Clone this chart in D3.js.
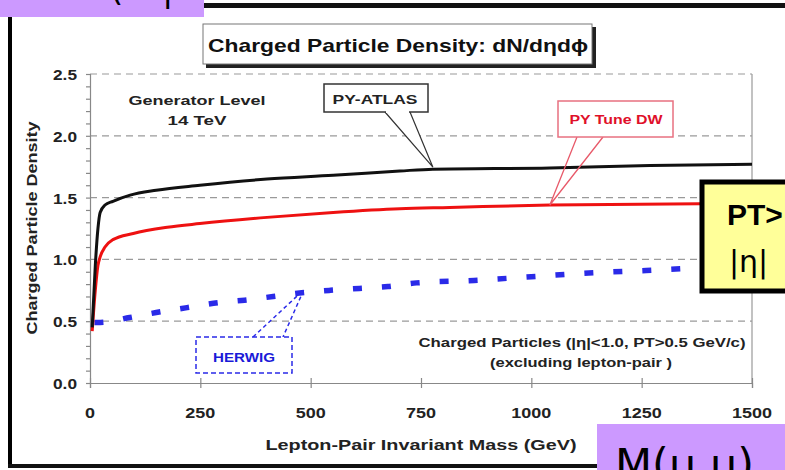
<!DOCTYPE html>
<html>
<head>
<meta charset="utf-8">
<script src="https://cdn.jsdelivr.net/npm/d3@7"></script>
<style>
  html, body { margin: 0; padding: 0; background: #fff; }
  svg { display: block; font-family: "Liberation Sans", Arial, sans-serif; }
</style>
</head>
<body>
<svg id="chart" width="785" height="470"></svg>
<script>
// Lepton-pair invariant mass (GeV) and charged particle density per model
const atlasMass   = [5, 12, 18, 23, 34, 52, 91, 150, 249, 401, 551, 702, 777, 1042, 1269, 1500];
const atlasValues = [0.45, 0.95, 1.25, 1.38, 1.44, 1.47, 1.52, 1.56, 1.60, 1.65, 1.68, 1.715, 1.73, 1.74, 1.76, 1.77];

const dwMass   = [5, 12, 18, 23, 34, 52, 98, 175, 249, 401, 551, 702, 815, 1042, 1382, 1500];
const dwValues = [0.42, 0.75, 0.95, 1.02, 1.10, 1.16, 1.21, 1.26, 1.29, 1.34, 1.38, 1.41, 1.42, 1.44, 1.45, 1.45];

const herwigMass   = [10, 23, 90, 150, 220, 290, 350, 415, 480, 545, 610, 675, 740, 870, 1000, 1130, 1260, 1400, 1500];
const herwigValues = [0.49, 0.49, 0.53, 0.57, 0.61, 0.65, 0.67, 0.70, 0.73, 0.75, 0.765, 0.78, 0.81, 0.83, 0.86, 0.89, 0.91, 0.935, 0.95];

const xTicks = [0, 250, 500, 750, 1000, 1250, 1500];
const yTicks = [0.0, 0.5, 1.0, 1.5, 2.0, 2.5];

const svg = d3.select("#chart");

const x = d3.scaleLinear().domain([0, 1500]).range([90, 752]);
const y = d3.scaleLinear().domain([0, 2.5]).range([383, 74]);

// Text helper: wide, blocky lettering stretched to a set width
function label(g, opts) {
  const t = g.append("text")
    .attr("x", opts.x).attr("y", opts.y)
    .attr("text-anchor", opts.anchor || "middle")
    .attr("font-size", opts.size || 12)
    .attr("font-weight", opts.weight || "bold")
    .attr("fill", opts.fill || "#222")
    .text(opts.text);
  if (opts.family) t.attr("font-family", opts.family);
  if (opts.width) t.attr("textLength", opts.width).attr("lengthAdjust", "spacingAndGlyphs");
  if (opts.transform) t.attr("transform", opts.transform);
  return t;
}

// Slide frame
svg.append("rect").attr("x", 8).attr("y", 15).attr("width", 4).attr("height", 453).attr("fill", "#000");
svg.append("rect").attr("x", 8).attr("y", 464).attr("width", 600).attr("height", 4).attr("fill", "#111");
svg.append("rect").attr("x", 200).attr("y", 3).attr("width", 585).attr("height", 5).attr("fill", "#111");

// Purple header tab (its heading sits above the visible area)
svg.append("rect").attr("x", 0).attr("y", 0).attr("width", 204).attr("height", 17).attr("fill", "#cc99ff");
label(svg, { x: 110, y: 1, size: 34, weight: "normal", family: "DejaVu Sans", fill: "#000", anchor: "start", text: "(" });
label(svg, { x: 162, y: 1, size: 34, weight: "normal", family: "DejaVu Sans", fill: "#000", anchor: "start", text: "|" });

// Gridlines
svg.append("g").selectAll("line").data(yTicks.filter(d => d > 0)).join("line")
  .attr("x1", x(0)).attr("x2", x(1500))
  .attr("y1", d => y(d)).attr("y2", d => y(d))
  .attr("stroke", "#9a9a9a").attr("stroke-width", 1.2).attr("stroke-dasharray", "7,5");

// Right frame of plot
svg.append("line").attr("x1", x(1500)).attr("x2", x(1500)).attr("y1", y(2.5)).attr("y2", y(0))
  .attr("stroke", "#999").attr("stroke-width", 1.2);

// Y axis with minor ticks
const yAxis = d3.axisLeft(y).tickValues(d3.range(0, 2.51, 0.1)).tickSize(4).tickFormat("");
const gy = svg.append("g").attr("transform", `translate(${x(0)},0)`).call(yAxis);
gy.selectAll("path, line").attr("stroke", "#888").attr("stroke-width", 1.2);
const gyl = svg.append("g");
yTicks.forEach(d => label(gyl, { x: 77, y: y(d) + 6, size: 14, anchor: "end", width: 24, text: d3.format(".1f")(d) }));

// X axis
const xAxis = d3.axisBottom(x).tickValues(xTicks).tickSize(5).tickFormat("");
const gx = svg.append("g").attr("transform", `translate(0,${y(0)})`).call(xAxis);
gx.selectAll("path").attr("stroke", "#888").attr("stroke-width", 1.2);
gx.selectAll(".tick line").attr("y1", -5).attr("stroke", "#888").attr("stroke-width", 1.2);
const gxl = svg.append("g");
xTicks.forEach(d => {
  const s = String(d);
  label(gxl, { x: x(d), y: 418, size: 14, width: s.length * 10, text: s });
});

// Axis titles
label(svg, { x: 421, y: 450, size: 15, width: 311, text: "Lepton-Pair Invariant Mass (GeV)" });
label(svg, { x: 0, y: 0, size: 14, width: 213, text: "Charged Particle Density",
  transform: "translate(37,228) rotate(-90)" });

// Curves
const line = (xs, vs) => d3.line().curve(d3.curveMonotoneX)
  .x((d, i) => x(xs[i])).y(d => y(d))(vs);

svg.append("path").attr("d", line(herwigMass, herwigValues)).attr("fill", "none")
  .attr("stroke", "#2a2ae8").attr("stroke-width", 5.5).attr("stroke-dasharray", "9,20");
svg.append("path").attr("d", line(dwMass, dwValues)).attr("fill", "none")
  .attr("stroke", "#ee1111").attr("stroke-width", 3);
svg.append("path").attr("d", line(atlasMass, atlasValues)).attr("fill", "none")
  .attr("stroke", "#111").attr("stroke-width", 3);

// Title box with shadow
svg.append("rect").attr("x", 206).attr("y", 27).attr("width", 390).attr("height", 41).attr("fill", "#222");
svg.append("rect").attr("x", 203).attr("y", 24).attr("width", 389).attr("height", 40)
  .attr("fill", "#fff").attr("stroke", "#777").attr("stroke-width", 1);
label(svg, { x: 208, y: 52, size: 19, anchor: "start", width: 380, fill: "#111",
  text: "Charged Particle Density: dN/dηdϕ" });

// Generator note
label(svg, { x: 197, y: 105, size: 13, width: 137, text: "Generator Level" });
label(svg, { x: 197, y: 125, size: 13, width: 59, text: "14 TeV" });

// PY-ATLAS callout
const atlasTip = [x(777), y(1.73) - 2];
svg.append("path").attr("d", `M385,112 L${atlasTip[0]},${atlasTip[1]} L410,112`)
  .attr("fill", "#fff").attr("stroke", "#333").attr("stroke-width", 1.2);
svg.append("rect").attr("x", 324).attr("y", 84).attr("width", 104).attr("height", 28)
  .attr("fill", "#fff").attr("stroke", "#333").attr("stroke-width", 1.5);
svg.append("line").attr("x1", 386).attr("x2", 409).attr("y1", 112).attr("y2", 112).attr("stroke", "#fff").attr("stroke-width", 2);
label(svg, { x: 375, y: 104, size: 12.5, width: 85, text: "PY-ATLAS" });

// PY Tune DW callout
const dwTip = [x(1042), y(1.44)];
svg.append("path").attr("d", `M577,137 L${dwTip[0]},${dwTip[1]} L603,137`)
  .attr("fill", "none").attr("stroke", "#e85a6a").attr("stroke-width", 1.3);
svg.append("rect").attr("x", 558).attr("y", 101).attr("width", 115).attr("height", 36)
  .attr("fill", "#fff").attr("stroke", "#e87080").attr("stroke-width", 1.5);
label(svg, { x: 616, y: 124, size: 13, width: 93, fill: "#e0102a", text: "PY Tune DW" });

// HERWIG callout
const hwTip = [x(480) + 2, y(0.73) - 3];
svg.append("path").attr("d", `M253,337 L${hwTip[0]},${hwTip[1]} L283,337`)
  .attr("fill", "none").attr("stroke", "#2a2ae8").attr("stroke-width", 1.5).attr("stroke-dasharray", "4,3");
svg.append("rect").attr("x", 196).attr("y", 337).attr("width", 96).attr("height", 36)
  .attr("fill", "#fff").attr("stroke", "#2a2ae8").attr("stroke-width", 1.5).attr("stroke-dasharray", "5,3");
label(svg, { x: 244, y: 362, size: 13.5, width: 62, fill: "#1a1ad8", text: "HERWIG" });

// Selection note
label(svg, { x: 582, y: 347, size: 12, width: 327, text: "Charged Particles (|η|<1.0, PT>0.5 GeV/c)" });
label(svg, { x: 581, y: 367, size: 12, width: 182, text: "(excluding lepton-pair )" });

// Yellow cut box at right edge
svg.append("rect").attr("x", 702).attr("y", 182).attr("width", 100).attr("height", 109)
  .attr("fill", "#ffff99").attr("stroke", "#000").attr("stroke-width", 5);
label(svg, { x: 727, y: 225, size: 30, anchor: "start", fill: "#000", text: "PT>" });
label(svg, { x: 729, y: 272, size: 30, weight: "normal", family: "DejaVu Sans", anchor: "start", fill: "#000", text: "|η|" });

// Purple mass label tab
svg.append("rect").attr("x", 597).attr("y", 424).attr("width", 188).attr("height", 46).attr("fill", "#cc99ff");
label(svg, { x: 615, y: 479, size: 43, weight: "normal", family: "DejaVu Sans", anchor: "start", fill: "#000", text: "M(μ μ)" });
</script>
</body>
</html>
